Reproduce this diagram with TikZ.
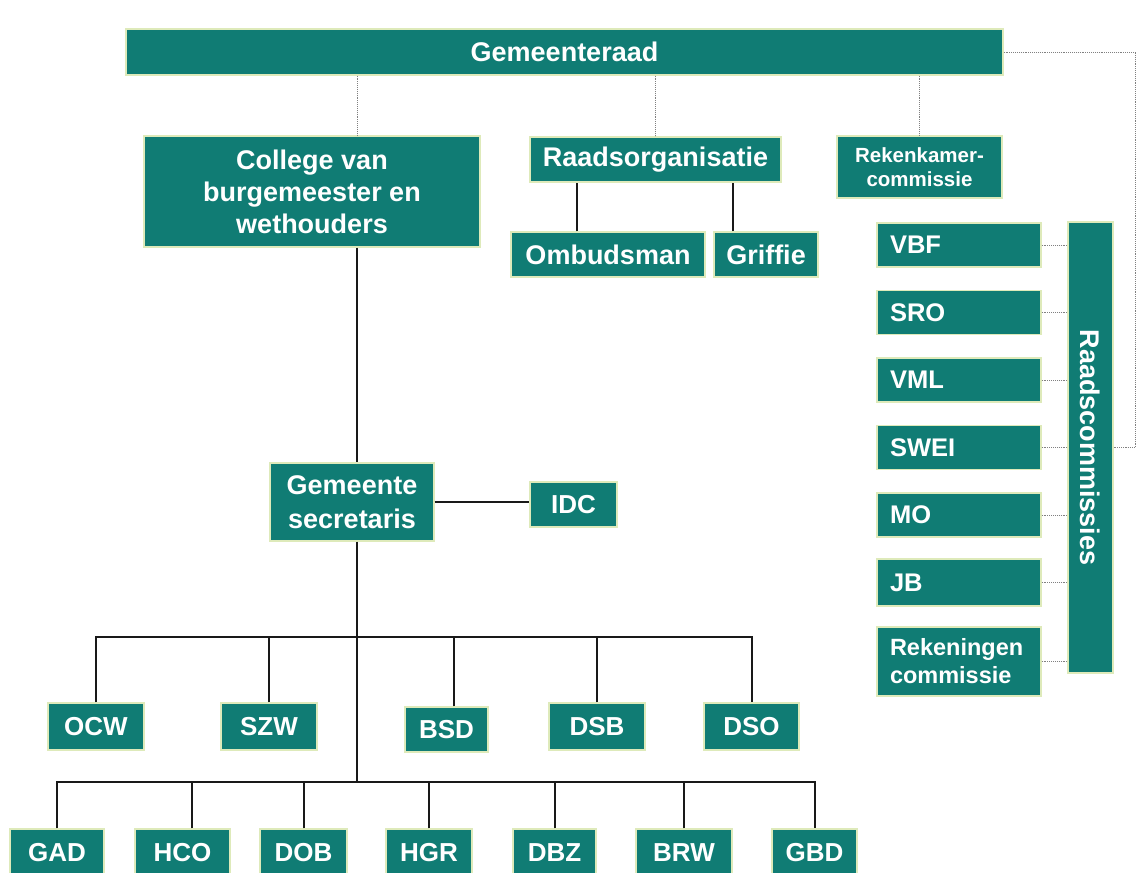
\documentclass[tikz,border=0pt]{standalone}
\usepackage{fontspec}
\setmainfont{Liberation Sans}
\usetikzlibrary{positioning}
\definecolor{raadteal}{RGB}{16,124,116}
\definecolor{rim}{RGB}{222,234,186}

\begin{document}
\begin{tikzpicture}[x=1pt,y=-1pt,node distance=67.5pt,
    thick,unit/.style={draw=rim, line width=1.2pt, fill=raadteal, text=white,
      font=\bfseries\fontsize{26}{31}\selectfont, inner sep=0pt, align=center},
    big/.style={unit, font=\bfseries\fontsize{27}{32}\selectfont},
    cie/.style={unit, minimum height=44pt, text width=138pt, inner xsep=13pt, align=left,
      font=\bfseries\fontsize{25.5}{31}\selectfont},
    dept/.style={unit, minimum height=47pt},
    line/.style={black!90, line width=2pt},
    dotline/.style={gray, densely dotted, line width=0.9pt}]

  \useasboundingbox[fill=white] (0,0) rectangle (1141,873);

  % council and its bodies
  \node[big, minimum width=877pt, minimum height=46pt] (gr) at (564.5,52) {Gemeenteraad};
  \node[big, minimum width=336pt, minimum height=111pt] (cvbw) at (312,191.5)
        {College van\\burgemeester en\\wethouders};
  \node[big, minimum width=251pt, minimum height=45pt] (rorg) at (655.5,159.5) {Raadsorganisatie};
  \node[unit, minimum width=165pt, minimum height=62pt,
        font=\bfseries\fontsize{20.5}{24}\selectfont] (rkc) at (919.5,167) {Rekenkamer-\\commissie};
  \node[big, minimum width=194pt, minimum height=45pt] (omb) at (608,254.5) {Ombudsman};
  \node[big, minimum width=104pt, minimum height=45pt] (grif) at (766,254.5) {Griffie};

  % committees
  \node[cie] (vbf) at (959,245) {VBF};
  \node[cie] (sro) [below of=vbf] {SRO};
  \node[cie] (vml) [below of=sro] {VML};
  \node[cie] (swei) [below of=vml] {SWEI};
  \node[cie] (mo) [below of=swei] {MO};
  \node[cie, minimum height=47pt] (jb) [below of=mo] {JB};
  \node[cie, minimum height=69pt, node distance=79pt,
        font=\bfseries\fontsize{23.5}{28}\selectfont] (rkn) [below of=jb] {Rekeningen\\commissie};
  \node[big, rotate=-90, minimum width=451pt, minimum height=45pt] (rcom) at (1090.5,447.5) {Raadscommissies};

  % administration
  \node[big, minimum width=164pt, minimum height=78pt,
        font=\bfseries\fontsize{27}{34}\selectfont] (gsec) at (352,502) {Gemeente\\secretaris};
  \node[unit, minimum width=87pt, minimum height=45pt] (idc) at (573.5,504.5) {IDC};

  \node[dept, minimum width=96pt] (ocw) at (96,726.5) {OCW};
  \node[dept, minimum width=96pt] (szw) at (269,726.5) {SZW};
  \node[dept, minimum width=83pt, minimum height=45pt] (bsd) at (446.5,729.5) {BSD};
  \node[dept, minimum width=96pt] (dsb) at (597,726.5) {DSB};
  \node[dept, minimum width=95pt] (dso) at (751.5,726.5) {DSO};

  \node[dept, minimum width=94pt] (gad) at (57,852.5) {GAD};
  \node[dept, minimum width=95pt] (hco) at (182.5,852.5) {HCO};
  \node[dept, minimum width=87pt] (dob) at (303.5,852.5) {DOB};
  \node[dept, minimum width=86pt] (hgr) at (429,852.5) {HGR};
  \node[dept, minimum width=83pt] (dbz) at (554.5,852.5) {DBZ};
  \node[dept, minimum width=96pt] (brw) at (684,852.5) {BRW};
  \node[dept, minimum width=85pt] (gbd) at (814.5,852.5) {GBD};

  \coordinate (spine) at (357,0);
  \coordinate (bus1) at (357,637);
  \coordinate (bus2) at (357,782);

  % dotted links
  \draw[dotline] (gr.south -| spine) -- (cvbw.north -| spine);
  \draw[dotline] (gr.south -| rorg.north) -- (rorg.north);
  \draw[dotline] (gr.south -| rkc.north) -- (rkc.north);
  \draw[dotline] (gr.east) -| ([xshift=22pt]rcom.north) -- (rcom.north);
  \foreach \c in {vbf,sro,vml,swei,mo,jb,rkn}
    \draw[dotline] (\c.east) -- (\c.east -| rcom.south);

  % solid links
  \draw[line] ([xshift=-31pt]omb.north) -- ([xshift=-31pt]omb.north |- rorg.south);
  \draw[line] ([xshift=-33pt]grif.north) -- ([xshift=-33pt]grif.north |- rorg.south);
  \draw[line] (cvbw.south -| spine) -- (gsec.north -| spine);
  \draw[line] (gsec.east) -- (gsec.east -| idc.west);
  \draw[line] (gsec.south -| spine) -- (bus2);
  \draw[line] (ocw.north) |- (bus1) -| (dso.north);
  \foreach \d in {szw,dsb}
    \draw[line] (\d.north) -- (\d.north |- bus1);
  \draw[line] ([xshift=7pt]bsd.north) -- ([xshift=7pt]bsd.north |- bus1);
  \draw[line] (gad.north) |- (bus2) -| (gbd.north);
  \foreach \d in {dob,hgr,dbz,brw}
    \draw[line] (\d.north) -- (\d.north |- bus2);
  \draw[line] ([xshift=9pt]hco.north) -- ([xshift=9pt]hco.north |- bus2);
\end{tikzpicture}
\end{document}
